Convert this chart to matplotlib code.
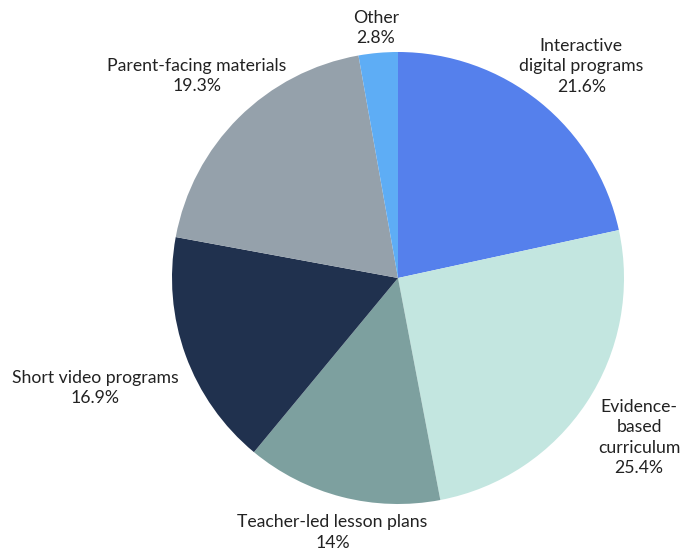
import numpy as np
import matplotlib.pyplot as plt

plt.rcParams['font.family'] = ['Lato', 'DejaVu Sans']

labels = ["Interactive\ndigital programs", "Evidence-\nbased\ncurriculum",
          "Teacher-led lesson plans", "Short video programs",
          "Parent-facing materials", "Other"]
values = [21.6, 25.4, 14, 16.9, 19.3, 2.8]
colors = ["#5580EC", "#C3E6E0", "#7DA09F", "#20314E", "#95A1AB", "#5EADF5"]

# label placement: distance from center (px) and angle nudge (deg)
label_dist = [280, 289, 263, 322, 285, 251]
label_nudge = [-2, 0, 0, 0, 0, 0]

fig = plt.figure(figsize=(6.91, 5.52), dpi=100)
ax = fig.add_axes([0, 0, 1, 1])

cx, cy, r = 398, 274, 226
ax.pie(values, colors=colors, startangle=90, counterclock=False,
       center=(cx, cy), radius=r, wedgeprops=dict(linewidth=0),
       frame=True)
ax.set_xlim(0, 691)
ax.set_ylim(0, 552)
ax.axis("off")

start = 90
for lab, val, d, nudge in zip(labels, values, label_dist, label_nudge):
  span = val * 3.6
  mid = np.deg2rad(start - span / 2 + nudge)
  start -= span
  pct = f"{val:g}%"
  ax.text(cx + d * np.cos(mid), cy + d * np.sin(mid), f"{lab}\n{pct}",
          ha="center", va="center", fontsize=12.7, color="#222222",
          linespacing=1.35)

fig.savefig("out.png", dpi=100)
